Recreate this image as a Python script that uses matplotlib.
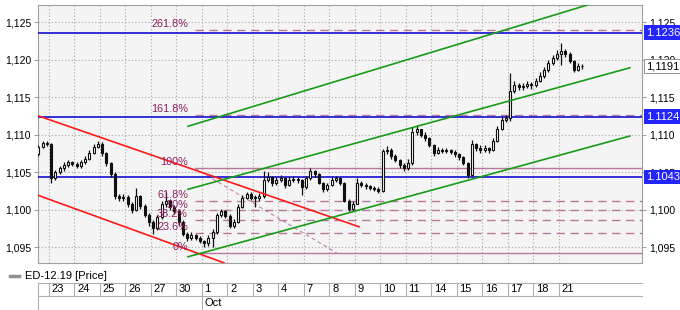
import matplotlib
matplotlib.use('Agg')
import matplotlib.pyplot as plt
from matplotlib.lines import Line2D
from matplotlib.ticker import FuncFormatter

plt.rcParams['font.family'] = ['Liberation Sans', 'DejaVu Sans']

# ---------------- data ----------------
day_labels = ['23', '24', '25', '26', '27', '30', '1', '2', '3', '4', '7',
              '8', '9', '10', '11', '14', '15', '16', '17', '18', '21']
month_label = 'Oct'
month_start = 6          # Oct 1 is the 7th trading day shown

bars_per_day = 6
first_open = 1.1074
# 3 bars of Sep 20, then 6 bars per trading day (Sep 23 .. Oct 21)
closes = [
    1.1084, 1.1089, 1.1088,
    1.1042, 1.1050, 1.1055, 1.1060, 1.1063, 1.1061,   # 23
    1.1058, 1.1064, 1.1068, 1.1076, 1.1084, 1.1088,   # 24
    1.1075, 1.1062, 1.1048, 1.1018, 1.1015, 1.1017,   # 25
    1.1008, 1.1000, 1.1018, 1.1005, 1.0993, 1.0984,   # 26
    1.0975, 1.0990, 1.1008, 1.1012, 1.1003, 1.0998,   # 27
    1.0983, 1.0968, 1.0962, 1.0966, 1.0962, 1.0958,   # 30
    1.0955, 1.0962, 1.0970, 1.0993, 1.0998, 1.0992,   # 1
    1.0978, 1.0984, 1.1004, 1.1016, 1.1021, 1.1016,   # 2
    1.1016, 1.1018, 1.1040, 1.1044, 1.1035, 1.1040,   # 3
    1.1042, 1.1033, 1.1040, 1.1041, 1.1039, 1.1030,   # 4
    1.1042, 1.1051, 1.1048, 1.1036, 1.1027, 1.1033,   # 7
    1.1040, 1.1042, 1.1036, 1.1012, 1.1001, 1.1008,   # 8
    1.1036, 1.1033, 1.1031, 1.1029, 1.1028, 1.1025,   # 9
    1.1078, 1.1080, 1.1072, 1.1066, 1.1060, 1.1056,   # 10
    1.1062, 1.1104, 1.1108, 1.1100, 1.1095, 1.1086,   # 11
    1.1076, 1.1080, 1.1078, 1.1079, 1.1077, 1.1074,   # 14
    1.1070, 1.1062, 1.1046, 1.1088, 1.1082, 1.1080,   # 15
    1.1082, 1.1080, 1.1092, 1.1108, 1.1120, 1.1122,   # 16
    1.1158, 1.1166, 1.1163, 1.1165, 1.1168, 1.1166,   # 17
    1.1172, 1.1178, 1.1186, 1.1196, 1.1202, 1.1208,   # 18
    1.1212, 1.1208, 1.1198, 1.1186, 1.1192, 1.1191,   # 21
]
highs = [
    1.1086, 1.1091, 1.1091,
    1.1089, 1.1053, 1.1058, 1.1063, 1.1066, 1.1065,
    1.1063, 1.1066, 1.1071, 1.1079, 1.1087, 1.1092,
    1.1090, 1.1077, 1.1064, 1.1050, 1.1021, 1.1021,
    1.1019, 1.1010, 1.1029, 1.1020, 1.1007, 1.0996,
    1.0986, 1.0993, 1.1011, 1.1023, 1.1014, 1.1006,
    1.0999, 1.0986, 1.0970, 1.0970, 1.0968, 1.0965,
    1.0960, 1.0966, 1.0974, 1.0996, 1.1001, 1.1000,
    1.0994, 1.0987, 1.1008, 1.1019, 1.1024, 1.1023,
    1.1020, 1.1022, 1.1052, 1.1050, 1.1045, 1.1044,
    1.1046, 1.1044, 1.1043, 1.1045, 1.1044, 1.1041,
    1.1045, 1.1055, 1.1053, 1.1049, 1.1037, 1.1036,
    1.1043, 1.1045, 1.1044, 1.1037, 1.1014, 1.1011,
    1.1042, 1.1038, 1.1035, 1.1033, 1.1031, 1.1030,
    1.1081, 1.1085, 1.1082, 1.1074, 1.1068, 1.1062,
    1.1068, 1.1110, 1.1113, 1.1108, 1.1103, 1.1097,
    1.1088, 1.1083, 1.1082, 1.1082, 1.1081, 1.1079,
    1.1076, 1.1072, 1.1064, 1.1093, 1.1089, 1.1086,
    1.1086, 1.1084, 1.1095, 1.1111, 1.1124, 1.1126,
    1.1182, 1.1172, 1.1169, 1.1169, 1.1172, 1.1170,
    1.1176, 1.1183, 1.1190, 1.1199, 1.1206, 1.1213,
    1.1222, 1.1214, 1.1210, 1.1200, 1.1195, 1.1194,
]
lows = [
    1.1072, 1.1082, 1.1085,
    1.1036, 1.1040, 1.1047, 1.1052, 1.1057, 1.1058,
    1.1055, 1.1056, 1.1061, 1.1066, 1.1074, 1.1082,
    1.1072, 1.1058, 1.1044, 1.1014, 1.1011, 1.1012,
    1.1004, 1.0996, 1.0998, 1.1001, 1.0990, 1.0978,
    1.0968, 1.0973, 1.0988, 1.1004, 1.1000, 1.0994,
    1.0980, 1.0965, 1.0958, 1.0960, 1.0959, 1.0955,
    1.0950, 1.0952, 1.0950, 1.0968, 1.0990, 1.0989,
    1.0975, 1.0976, 1.0982, 1.1002, 1.1014, 1.1013,
    1.1003, 1.1012, 1.1016, 1.1037, 1.1031, 1.1033,
    1.1037, 1.1029, 1.1031, 1.1037, 1.1035, 1.1020,
    1.1028, 1.1040, 1.1044, 1.1034, 1.1024, 1.1025,
    1.1031, 1.1037, 1.1033, 1.1010, 1.0998, 1.1000,
    1.1007, 1.1030, 1.1028, 1.1026, 1.1025, 1.1022,
    1.1024, 1.1074, 1.1068, 1.1063, 1.1056, 1.1052,
    1.1053, 1.1060, 1.1100, 1.1097, 1.1091, 1.1083,
    1.1072, 1.1074, 1.1075, 1.1075, 1.1074, 1.1070,
    1.1066, 1.1059, 1.1042, 1.1045, 1.1078, 1.1076,
    1.1077, 1.1076, 1.1078, 1.1090, 1.1106, 1.1117,
    1.1118, 1.1155, 1.1159, 1.1160, 1.1162, 1.1161,
    1.1164, 1.1170, 1.1175, 1.1183, 1.1193, 1.1199,
    1.1193, 1.1204, 1.1196, 1.1183, 1.1185, 1.1188,
]

# horizontal support/resistance lines and last price
blue_levels = [1.1236, 1.1124, 1.1043]
last_price = 1.1191

# Fibonacci tool
fib_levels = [1.0942, 1.0969, 1.0986, 1.0999, 1.1012, 1.1056, 1.1126, 1.1240]
fib_labels = ['0%', '23.6%', '38.2%', '50%', '61.8%', '100%', '161.8%', '261.8%']
fib_solid = [True, False, False, False, False, True, False, False]
fib_start = 5.72
fib_diag_x = [5.72, 11.29]
fib_diag_y = [1.1055, 1.0942]

# trend channels (x in trading days from Sep 23)
red_lines = [([-0.43, 12.16], [1.1125, 1.0977]),
             ([-0.43, 6.86], [1.1019, 1.0929])]
green_lines = [([5.45, 22.78], [1.0937, 1.1098]),
               ([5.45, 22.78], [1.1027, 1.1189]),
               ([5.45, 21.14], [1.1111, 1.1273])]

# ---------------- figure ----------------
W, H = 680, 310
fig = plt.figure(figsize=(6.8, 3.1), dpi=100, facecolor='white')

left, right, top, bottom = 38, 642, 5, 263
ax = fig.add_axes([left / W, 1 - bottom / H, (right - left) / W, (bottom - top) / H])
ax.set_facecolor('#f4f4f4')
xlim = (-0.431, 23.255)
ax.set_xlim(*xlim)
ax.set_ylim(1.09287, 1.12727)

for s in ax.spines.values():
    s.set_color('#a0a0a0')
    s.set_linewidth(0.8)

ax.set_xticks(range(len(day_labels)))
ax.tick_params(axis='x', length=0, labelbottom=False)
yticks = [1.095, 1.100, 1.105, 1.110, 1.115, 1.120, 1.125]
ax.set_yticks(yticks)
ax.yaxis.set_major_formatter(FuncFormatter(lambda v, p: f"{v:.3f}".replace('.', ',')))
ax.tick_params(axis='y', left=True, right=True, labelleft=True, labelright=True,
               length=3, width=0.8, color='#a0a0a0', labelsize=7.5, pad=2)
ax.grid(True, color='#a8a8a8', linestyle=(0, (1, 2)), linewidth=0.8)
ax.set_axisbelow(True)

# candles
xs = [-1 + (k + 0.5) / bars_per_day for k in range(3, 6)]
for d in range(len(day_labels)):
    xs += [d + (k + 0.5) / bars_per_day for k in range(bars_per_day)]
opens = [first_open] + closes[:-1]
bw = 0.45 / bars_per_day
for x, o, h, l, c in zip(xs, opens, highs, lows, closes):
    ax.vlines(x, l, h, color='#101010', linewidth=0.9, zorder=4)
    lo, hi = min(o, c), max(o, c)
    ax.bar(x, max(hi - lo, 0.00005), bw, bottom=lo,
           color='white' if c > o else '#101010', edgecolor='#101010',
           linewidth=0.8, zorder=5)

# channels
for xx, yy in red_lines:
    ax.plot(xx, yy, color='#ff1a1a', linewidth=1.2, zorder=6)
for xx, yy in green_lines:
    ax.plot(xx, yy, color='#1a9a1a', linewidth=1.2, zorder=6)

# fibonacci
fib_col = '#b8789c'
for lvl, lab, solid in zip(fib_levels, fib_labels, fib_solid):
    ax.plot([fib_start, xlim[1]], [lvl, lvl], color=fib_col, linewidth=1.0,
            linestyle='-' if solid else (0, (6, 4)), zorder=3)
    ax.text(fib_start - 0.27, lvl + 0.0001, lab, color='#8c2060', fontsize=7.8,
            ha='right', va='bottom', zorder=7)
ax.plot(fib_diag_x, fib_diag_y, color=fib_col, linewidth=0.7,
        linestyle=(0, (4, 3)), zorder=3)

# blue horizontal lines
for lvl in blue_levels:
    ax.axhline(lvl, color='#1010d0', linewidth=1.2, zorder=3)

# right-hand price boxes
ytr = ax.get_yaxis_transform()
for lvl in blue_levels:
    ax.text(1.007, lvl, f"{lvl:.4f}", transform=ytr, color='white', fontsize=8,
            ha='left', va='center', clip_on=False, zorder=10,
            bbox=dict(boxstyle='square,pad=0.2', fc='#2424ff', ec='none'))
ax.text(1.007, last_price, f"{last_price:.4f}".replace('.', ','), transform=ytr,
        color='black', fontsize=8, ha='left', va='center', clip_on=False, zorder=10,
        bbox=dict(boxstyle='square,pad=0.2', fc='white', ec='#808080', lw=0.6))

# legend entry
fig.add_artist(Line2D([10 / W, 19 / W], [1 - 276 / H] * 2, color='#909090', linewidth=2.5))
fig.text(25 / W, 1 - 276 / H, 'ED-12.19 [Price]', fontsize=8, va='center', ha='left')

# date bar
axd = fig.add_axes([left / W, 0, (right - left) / W, 27 / H])
axd.set_xlim(*xlim)
axd.set_ylim(0, 27)
axd.axis('off')
sep = '#b0b0b0'
axd.plot(xlim, [27, 27], color=sep, linewidth=0.8, clip_on=False)
axd.plot(xlim, [14, 14], color=sep, linewidth=0.8, clip_on=False)
axd.plot([xlim[0]] * 2, [0, 27], color=sep, linewidth=0.8, clip_on=False)
for d, lab in enumerate(day_labels):
    axd.plot([d, d], [14, 27], color=sep, linewidth=0.8)
    axd.text(d + 0.1, 20.5, lab, fontsize=8, ha='left', va='center')
axd.plot([month_start, month_start], [0, 14], color=sep, linewidth=0.8)
axd.text(month_start + 0.1, 7, month_label, fontsize=8, ha='left', va='center')

fig.savefig('out.png', dpi=100, facecolor='white')
